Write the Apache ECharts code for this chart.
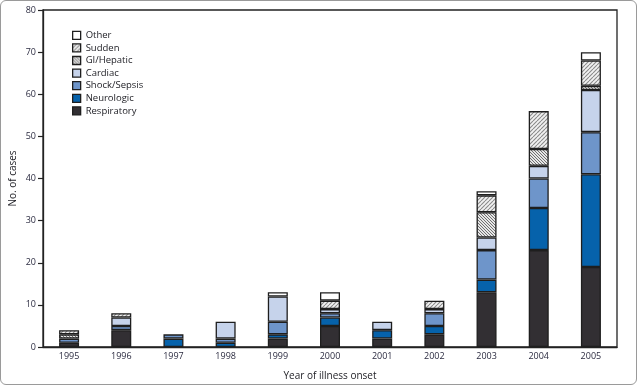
<!DOCTYPE html>
<html><head><meta charset="utf-8">
<script src="https://cdn.jsdelivr.net/npm/echarts@6/dist/echarts.min.js"></script>
<style>
html,body{margin:0;padding:0;background:#fff;}
#wrap{position:absolute;left:0;top:0;width:635px;height:383px;border:1px solid #9a9a9a;border-radius:6px;overflow:hidden;}
#c{width:635px;height:383px;}
</style></head><body>
<div id="wrap"><div id="c"></div></div>
<script>
const years = ['1995','1996','1997','1998','1999','2000','2001','2002','2003','2004','2005'];
const respiratory = [1,4,0,0,2,5,2,3,13,23,19];
const neurologic  = [0,0,2,1,1,2,2,2,3,10,22];
const shockSepsis = [1,1,1,1,3,1,0,3,7,7,10];
const cardiac     = [0,2,0,4,6,1,2,1,3,3,10];
const giHepatic   = [1,0,0,0,0,0,0,0,6,4,1];
const sudden      = [1,1,0,0,0,2,0,2,4,9,6];
const other       = [0,0,0,0,1,2,0,0,1,0,2];
const yTicks = [0,10,20,30,40,50,60,70,80];

function pattern(dir, bg, fg, size, lw){
  const c = document.createElement('canvas');
  c.width = size; c.height = size;
  const g = c.getContext('2d');
  g.fillStyle = bg; g.fillRect(0,0,size,size);
  g.strokeStyle = fg; g.lineWidth = lw;
  g.beginPath();
  if(dir === '/'){
    for(let k=-size;k<=2*size;k+=size){ g.moveTo(k,size); g.lineTo(k+size,0); }
  } else {
    for(let k=-size;k<=2*size;k+=size){ g.moveTo(k,0); g.lineTo(k+size,size); }
  }
  g.stroke();
  return {image:c, repeat:'repeat'};
}
const suddenFill = pattern('/', '#f2f2f2', '#8a8a8a', 4, 1.1);
const giFill = pattern('\\', '#e6e6e6', '#707070', 3, 1.0);

const defs = [
  ['Respiratory', respiratory, '#322f33'],
  ['Neurologic', neurologic, '#0662ab'],
  ['Shock/Sepsis', shockSepsis, '#6e95ca'],
  ['Cardiac', cardiac, '#c6d3eb'],
  ['GI/Hepatic', giHepatic, giFill],
  ['Sudden', sudden, suddenFill],
  ['Other', other, '#ffffff']
];
const font = 'Open Sans, Liberation Sans, sans-serif';
const series = defs.map(d => ({
  name: d[0], type: 'bar', stack: 'a', barWidth: 20,
  data: d[1].map(v => v === 0 ? null : v),
  itemStyle: {color: d[2], borderColor: '#1e1e1e', borderWidth: 1.3},
  emphasis: {disabled: true}
}));
const chart = echarts.init(document.getElementById('c'));
chart.setOption({
  animation: false,
  grid: {left: 42, right: 19, top: 9, bottom: 37, outerBoundsMode: 'none', containLabel: false,
         show: true, borderColor: '#222', borderWidth: 1.3, backgroundColor: 'transparent'},
  legend: {
    orient: 'vertical', left: 66, top: 23, itemWidth: 8, itemHeight: 8, itemGap: 0,
    icon: 'rect',
    data: ['Other','Sudden','GI/Hepatic','Cardiac','Shock/Sepsis','Neurologic','Respiratory'],
    textStyle: {fontFamily: font, fontSize: 9.5, color: '#222228', lineHeight: 12.6, padding: [0,0,0,0]},
    itemStyle: {borderColor: '#1e1e1e', borderWidth: 1.3}
  },
  xAxis: {
    type: 'category', data: years,
    name: 'Year of illness onset', nameLocation: 'middle', nameGap: 24, nameMoveOverlap: false,
    nameTextStyle: {fontFamily: font, fontSize: 10, color: '#222228'},
    axisLine: {lineStyle: {color: '#222', width: 1.3}},
    axisTick: {alignWithLabel: true, length: 4, lineStyle: {color: '#222', width: 1.2}},
    axisLabel: {fontFamily: font, fontSize: 9, color: '#2b2b40', margin: 5}
  },
  yAxis: {
    type: 'value', min: 0, max: 80, interval: 10,
    name: 'No. of cases', nameLocation: 'middle', nameGap: 25, nameMoveOverlap: false,
    nameTextStyle: {fontFamily: font, fontSize: 10, color: '#222228'},
    splitLine: {show: false},
    axisLine: {show: true, lineStyle: {color: '#222', width: 1.3}},
    axisTick: {show: true, length: 5, lineStyle: {color: '#222', width: 1.2}},
    axisLabel: {fontFamily: font, fontSize: 9, color: '#2b2b40', margin: 7,
      formatter: v => yTicks.includes(v) ? String(v) : ''}
  },
  series: series
});
</script>
</body></html>
